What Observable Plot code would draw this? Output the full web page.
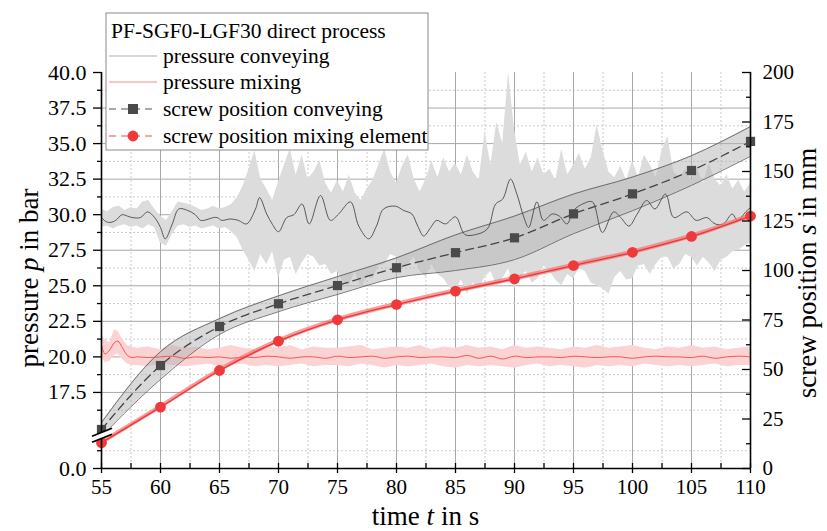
<!DOCTYPE html>
<html><head><meta charset="utf-8">
<script src="https://cdn.jsdelivr.net/npm/d3@7"></script>
<script src="https://cdn.jsdelivr.net/npm/@observablehq/plot@0.6"></script>
<style>body{margin:0;background:#fff;} #chart{width:827px;height:531px;}
#chart svg text{font-family:"Liberation Serif","Times New Roman","DejaVu Serif",serif;}</style>
</head><body><div id="chart"></div>
<script>
// ---------- ticks ----------
const timeTicks = [55,60,65,70,75,80,85,90,95,100,105,110];
const timeMinor = [57.5,62.5,67.5,72.5,77.5,82.5,87.5,92.5,97.5,102.5,107.5];
const pressureTicks = [0,17.5,20,22.5,25,27.5,30,32.5,35,37.5,40];
const pressureTickLabels = ["0.0","17.5","20.0","22.5","25.0","27.5","30.0","32.5","35.0","37.5","40.0"];
const pressureMinor = [1.25,16.25,18.75,21.25,23.75,26.25,28.75,31.25,33.75,36.25,38.75];
const screwTicks = [0,25,50,75,100,125,150,175,200];
const screwMinor = [12.5,37.5,62.5,87.5,112.5,137.5,162.5,187.5];
const pressureBreak = 14.6;

// ---------- pressure conveying (bar) ----------
const pcT = [55.0,55.4,55.8,56.2,56.75,57.2,57.6,58.3,58.9,59.5,60.0,60.4,61.0,61.55,62.3,62.95,63.4,64.1,64.5,64.8,65.2,65.9,66.6,67.3,68.05,68.4,69.0,69.5,70.0,70.7,71.3,72.0,72.6,73.56,74.4,75.1,76.1,76.8,77.65,78.3,78.9,79.9,80.6,81.3,81.8,82.3,82.9,83.4,84.15,85.0,85.8,86.7,87.7,88.4,89.0,89.66,90.2,90.8,91.2,91.9,92.45,93.2,93.8,94.45,95.0,95.9,96.6,97.45,98.4,99.0,99.7,100.4,101.2,101.9,102.8,103.5,104.6,105.4,106.3,107.0,107.7,108.45,108.9,109.6,110.0];
const pcP = [29.8,29.5,29.46,29.6,30.0,29.9,29.8,29.8,30.2,29.8,29.1,28.3,29.35,30.4,30.3,30.0,29.6,29.7,29.8,29.8,29.6,29.7,29.6,29.35,30.4,31.2,30.05,29.3,28.8,29.8,30.0,30.75,29.35,31.35,29.6,30.05,30.9,29.2,28.3,29.2,30.4,30.6,30.3,30.05,29.2,28.5,29.1,29.6,29.35,29.85,28.6,28.6,29.0,30.75,31.1,32.5,31.45,29.8,29.1,30.9,29.6,30.05,29.9,29.35,30.3,30.8,30.9,28.75,30.2,29.8,29.2,30.05,31.0,30.4,31.45,29.8,30.2,29.6,29.8,29.35,29.35,30.05,29.6,30.2,30.5];

// spread of pressure conveying, 0.5 s steps
const bandT = [55,55.5,56,56.5,57,57.5,58,58.5,59,59.5,
  60,60.5,61,61.5,62,62.5,63,63.5,64,64.5,
  65,65.5,66,66.5,67,67.5,68,68.5,69,69.5,
  70,70.5,71,71.5,72,72.5,73,73.5,74,74.5,
  75,75.5,76,76.5,77,77.5,78,78.5,79,79.5,
  80,80.5,81,81.5,82,82.5,83,83.5,84,84.5,
  85,85.5,86,86.5,87,87.5,88,88.5,89,89.5,
  90,90.5,91,91.5,92,92.5,93,93.5,94,94.5,
  95,95.5,96,96.5,97,97.5,98,98.5,99,99.5,
  100,100.5,101,101.5,102,102.5,103,103.5,104,104.5,
  105,105.5,106,106.5,107,107.5,108,108.5,109,109.5,110];
const pcUpper = [30.4,30.2,30.5,30.6,30.3,30.5,30.4,30.9,31.0,30.4,
  29.9,29.6,30.2,30.9,30.8,30.7,30.5,30.3,30.4,30.6,
  30.4,30.5,30.7,31.2,32.0,33.2,34.5,32.5,31.8,31.0,
  32.3,33.5,34.6,32.8,34.2,32.5,33.0,33.8,32.2,31.5,
  32.4,31.6,32.8,31.5,31.0,31.8,32.4,33.5,34.6,33.0,
  32.2,33.4,34.2,32.5,31.6,32.5,33.8,32.6,34.0,33.0,
  33.6,32.8,34.2,33.0,32.4,35.8,33.5,36.5,35.0,40.0,
  36.0,33.5,34.4,33.0,34.0,32.8,33.2,32.4,34.6,32.8,
  33.5,34.3,33.2,34.0,36.3,34.5,33.0,32.6,33.4,32.4,
  33.8,32.6,34.2,33.5,32.6,34.5,35.5,33.0,32.6,33.2,
  32.4,33.3,32.2,33.6,32.5,32.0,32.8,31.8,32.4,31.6,32.2];
const pcLower = [29.1,29.2,29.0,29.2,29.3,29.1,29.2,29.0,29.3,29.1,
  28.0,27.8,28.6,29.2,29.3,29.1,29.2,29.0,29.1,29.2,
  29.0,29.1,28.8,28.4,27.5,26.8,26.0,27.2,26.5,27.4,
  25.5,26.8,27.0,25.8,26.6,27.2,27.0,26.4,26.5,25.8,
  26.0,25.2,25.0,26.0,24.8,25.6,25.5,26.4,26.5,27.2,
  27.0,26.2,26.5,27.0,26.0,25.6,26.5,25.8,25.5,24.9,
  24.6,25.4,24.4,25.2,24.8,25.6,26.0,25.0,25.5,26.2,
  24.8,25.6,26.0,25.2,25.5,26.4,26.0,25.4,25.0,25.8,
  25.5,26.2,26.0,25.2,25.0,24.8,24.4,25.6,26.0,25.4,
  25.5,26.4,26.5,25.8,26.5,27.0,27.0,26.2,26.5,27.2,
  27.0,26.4,27.0,26.6,26.0,26.8,27.0,27.4,27.5,27.8,28.0];

// ---------- pressure mixing (bar) ----------
const pmT = [55,55.3,55.7,56.1,56.4,56.8,57.2,57.6,58,59,60,61,62,63,64,65,66,67,68,69,70,71,72,73,74,75,76,77,78,79,80,81,82,83,84,85,86,87,88,89,90,91,92,93,94,95,96,97,98,99,100,101,102,103,104,105,106,107,108,109,110];
const pmP = [20.8,20.2,20.5,21.0,21.1,20.6,20.1,19.95,20.0,19.95,20.0,20.05,19.9,20.0,19.95,20.0,19.9,20.0,19.95,20.05,20.0,19.9,20.0,20.0,19.9,20.05,19.95,20.0,20.05,19.9,20.0,20.05,19.95,20.0,20.0,19.95,20.1,19.9,20.05,19.85,20.05,19.95,20.0,20.0,19.95,20.05,20.0,19.95,20.0,20.0,19.9,20.0,20.05,20.0,20.0,19.95,20.05,19.9,20.0,20.05,20.0];
const pmUpper = [21.5,21.2,21.0,21.9,21.8,21.2,20.8,20.7,20.6,20.7,20.5,20.8,20.6,20.7,20.5,20.6,20.8,20.6,20.5,20.7,20.6,20.8,20.5,20.7,20.6,20.6,20.7,20.8,20.5,20.6,20.7,20.6,20.8,20.5,20.7,20.6,20.8,20.6,20.7,20.5,20.8,20.6,20.7,20.6,20.5,20.7,20.6,20.8,20.6,20.7,20.8,20.6,20.5,20.7,20.6,20.8,20.6,20.7,20.5,20.6,20.7];
const pmLower = [20.0,19.6,19.7,20.1,20.2,19.8,19.5,19.4,19.4,19.3,19.5,19.4,19.3,19.4,19.5,19.3,19.4,19.5,19.3,19.4,19.3,19.4,19.5,19.3,19.4,19.4,19.3,19.5,19.4,19.2,19.4,19.3,19.4,19.5,19.3,19.2,19.4,19.3,19.4,19.3,19.2,19.4,19.5,19.3,19.4,19.3,19.2,19.4,19.3,19.4,19.3,19.5,19.4,19.3,19.4,19.3,19.4,19.5,19.3,19.4,19.4];

// ---------- screw positions (mm) ----------
const screwT = [55,60,65,70,75,80,85,90,95,100,105,110];
const screwConv = [19.7,52,71.7,83.2,92.4,101.4,109,116.5,128.6,138.7,150.5,165.2];
const screwConvSpread = [3.5,7,4,4,4.5,5,9,11,10,8.5,7.5,7.5];
const screwMix = [13,31,49.5,64.3,75.1,82.8,89.6,95.8,102.5,109.2,117.2,127.5];
const screwMixSpread = [1.2,1.2,1.2,1.2,1.2,1.2,1.2,1.2,1.2,1.2,1.2,1.2];

// pressure (bar) -> shared vertical unit (mm of the right axis); broken left axis
const barToMm = 200 / (40 - 12.15);
function pToMm(p) { return p < pressureBreak ? p * barToMm : 200 - (40 - p) * barToMm; }

const pcLine = pcT.map((t,i)=>({t, v: pToMm(pcP[i])}));
const pcBand = bandT.map((t,i)=>({t, lo: pToMm(pcLower[i]), hi: pToMm(pcUpper[i])}));
const pmLine = pmT.map((t,i)=>({t, v: pToMm(pmP[i]), lo: pToMm(pmLower[i]), hi: pToMm(pmUpper[i])}));
const scData = screwT.map((t,i)=>({t, v: screwConv[i], lo: screwConv[i]-screwConvSpread[i], hi: screwConv[i]+screwConvSpread[i]}));
const smData = screwT.map((t,i)=>({t, v: screwMix[i], lo: screwMix[i]-screwMixSpread[i], hi: screwMix[i]+screwMixSpread[i]}));

const leftMajorMm = pressureTicks.map(pToMm);
const leftLabel = new Map(leftMajorMm.map((m,i)=>[m, pressureTickLabels[i]]));
const leftMinorMm = pressureMinor.map(pToMm);
const gridMajorMm = pressureTicks.filter(p=>p>0 && p<40).map(pToMm);

const FONT = "'Liberation Serif', 'Times New Roman', 'DejaVu Serif', serif";
const black = "#000";

const plot = Plot.plot({
  width: 827, height: 531,
  marginLeft: 101, marginRight: 77, marginTop: 72, marginBottom: 63,
  x: {domain: [55,110]},
  y: {domain: [0,200]},
  style: {fontFamily: FONT, fontSize: "21px", background: "#fff", color: "#000"},
  marks: [
    // grid
    Plot.ruleX(timeMinor, {stroke: "#c8c8c8", strokeDasharray: "2,2", strokeWidth: 1}),
    Plot.ruleX(timeTicks.slice(1,-1), {stroke: "#a8a8a8", strokeWidth: 1}),
    Plot.ruleY(leftMinorMm, {stroke: "#c8c8c8", strokeDasharray: "2,2", strokeWidth: 1}),
    Plot.ruleY(gridMajorMm, {stroke: "#a8a8a8", strokeWidth: 1}),
    // spread bands
    Plot.areaY(pcBand, {x: "t", y1: "lo", y2: "hi", fill: "#dcdcdc", curve: "linear"}),
    Plot.areaY(pmLine, {x: "t", y1: "lo", y2: "hi", fill: "#fbd3d3", curve: "linear"}),
    Plot.areaY(scData, {x: "t", y1: "lo", y2: "hi", fill: "#b4b4b4", fillOpacity: 0.5, curve: "monotone-x"}),
    Plot.line(scData, {x: "t", y: "lo", stroke: "#555", strokeWidth: 0.8, curve: "monotone-x"}),
    Plot.line(scData, {x: "t", y: "hi", stroke: "#555", strokeWidth: 0.8, curve: "monotone-x"}),
    // pressure lines
    Plot.line(pcLine, {x: "t", y: "v", stroke: "#4a4a4a", strokeWidth: 0.9, curve: "catmull-rom"}),
    Plot.line(pmLine, {x: "t", y: "v", stroke: "#ef4a4a", strokeWidth: 0.9, curve: "catmull-rom"}),
    // screw mixing
    Plot.areaY(smData, {x: "t", y1: "lo", y2: "hi", fill: "#f47070", fillOpacity: 0.7, curve: "monotone-x"}),
    Plot.line(smData, {x: "t", y: "v", stroke: "#ee3535", strokeWidth: 1.3, curve: "monotone-x"}),
    Plot.dot(smData, {x: "t", y: "v", r: 5.4, fill: "#f03a3a", stroke: "none"}),
    // screw conveying
    Plot.line(scData, {x: "t", y: "v", stroke: "#444", strokeWidth: 1.3, strokeDasharray: "8,5", curve: "monotone-x"}),
    Plot.dot(scData, {x: "t", y: "v", symbol: "square", r: 5.2, fill: "#4a4a4a", stroke: "none"}),
    // axis lines
    Plot.ruleY([0], {stroke: black, strokeWidth: 1.6}),
    Plot.ruleX([55], {stroke: black, strokeWidth: 1.6}),
    Plot.ruleX([110], {stroke: black, strokeWidth: 1.6}),
    // x axis
    Plot.axisX({ticks: timeTicks, tickSize: 5, tickPadding: 6, tickFormat: d => String(d), fontSize: 21, stroke: black, strokeWidth: 1.3, label: null}),
    Plot.axisX({ticks: timeTicks, tickSize: -5, tickFormat: () => "", stroke: black, strokeWidth: 1.3, label: null}),
    Plot.axisX({ticks: timeMinor, tickSize: -5, tickFormat: () => "", stroke: black, strokeWidth: 1.3, label: null}),
    // left axis (pressure)
    Plot.axisY({anchor: "left", ticks: leftMajorMm, tickSize: 8, tickPadding: 7, tickFormat: d => leftLabel.get(d), fontSize: 22, stroke: black, strokeWidth: 1.3, label: null}),
    Plot.axisY({anchor: "left", ticks: leftMinorMm, tickSize: 4, tickFormat: () => "", stroke: black, strokeWidth: 1.3, label: null}),
    // right axis (screw position)
    Plot.axisY({anchor: "right", ticks: screwTicks, tickSize: -9, tickPadding: 21, tickFormat: d => String(d), fontSize: 21, stroke: black, strokeWidth: 1.3, label: null}),
    Plot.axisY({anchor: "right", ticks: screwMinor, tickSize: -5, tickFormat: () => "", stroke: black, strokeWidth: 1.3, label: null})
  ]
});
document.getElementById("chart").appendChild(plot);

// ---------- decorations: axis titles, break mark, legend ----------
const svg = d3.select(plot);
const xs = plot.scale("x"), ys = plot.scale("y");
const x0 = xs.apply(55), x1 = xs.apply(110);
const yTop = ys.apply(200), yBot = ys.apply(0);

function title(g, parts) {
  parts.forEach(([txt, it]) => g.append("tspan").attr("font-style", it ? "italic" : "normal").text(txt));
}
function addText(sel) {
  return sel.append("text").attr("font-family", FONT).attr("fill", "#000").style("font-family", FONT);
}
const tx = addText(svg).attr("x", (x0+x1)/2).attr("y", yBot + 57)
  .attr("text-anchor","middle").attr("font-size", 27);
title(tx, [["time ",0],["t",1],[" in s",0]]);
const ty = addText(svg).attr("transform", `translate(${x0-63},${(yTop+yBot)/2 + 8}) rotate(-90)`)
  .attr("text-anchor","middle").attr("font-size", 27);
title(ty, [["pressure ",0],["p",1],[" in bar",0]]);
const tr = addText(svg).attr("transform", `translate(${x1+66},${(yTop+yBot)/2 + 3}) rotate(-90)`)
  .attr("text-anchor","middle").attr("font-size", 27);
title(tr, [["screw position ",0],["s",1],[" in mm",0]]);

// axis break
const yb = ys.apply(pToMm(pressureBreak));
const brk = svg.append("g");
brk.append("path").attr("d", `M${x0-8},${yb+3} L${x0+10},${yb-5} L${x0+10},${yb+1} L${x0-8},${yb+9} Z`).attr("fill", "#fff");
brk.append("line").attr("x1", x0-9).attr("y1", yb+3).attr("x2", x0+11).attr("y2", yb-5).attr("stroke", "#000").attr("stroke-width", 1.6);
brk.append("line").attr("x1", x0-9).attr("y1", yb+9).attr("x2", x0+11).attr("y2", yb+1).attr("stroke", "#000").attr("stroke-width", 1.6);

// legend
const legendTitle = "PF-SGF0-LGF30 direct process";
const legendItems = ["pressure conveying","pressure mixing","screw position conveying","screw position mixing element"];
const lg = svg.append("g");
lg.append("rect").attr("x", 106).attr("y", 13).attr("width", 322).attr("height", 137)
  .attr("fill", "#fff").attr("stroke", "#8a8a8a").attr("stroke-width", 1);
addText(lg).attr("x", 111).attr("y", 30).attr("dy", "0.35em").attr("text-anchor", "start").attr("font-size", 21.5).text(legendTitle);
const rowY = [56, 82, 109, 136];
const sx0 = 109, sx1 = 157, sxm = 133;
lg.append("line").attr("x1", sx0).attr("x2", sx1).attr("y1", rowY[0]).attr("y2", rowY[0]).attr("stroke", "#b0b0b0").attr("stroke-width", 1.2);
lg.append("line").attr("x1", sx0).attr("x2", sx1).attr("y1", rowY[1]).attr("y2", rowY[1]).attr("stroke", "#f6b3b3").attr("stroke-width", 1.5);
lg.append("line").attr("x1", sx0).attr("x2", sx1).attr("y1", rowY[2]).attr("y2", rowY[2]).attr("stroke", "#555").attr("stroke-width", 1.2).attr("stroke-dasharray", "7,5");
lg.append("rect").attr("x", sxm-5).attr("y", rowY[2]-5).attr("width", 10).attr("height", 10).attr("fill", "#4a4a4a");
lg.append("line").attr("x1", sx0).attr("x2", sx1).attr("y1", rowY[3]).attr("y2", rowY[3]).attr("stroke", "#f04a4a").attr("stroke-width", 1.2).attr("stroke-dasharray", "7,5");
lg.append("circle").attr("cx", sxm).attr("cy", rowY[3]).attr("r", 5.4).attr("fill", "#f03a3a");
legendItems.forEach((s,i)=> addText(lg).attr("x", 163).attr("y", rowY[i]).attr("dy", "0.32em").attr("text-anchor", "start").attr("font-size", 21.5).text(s));
</script>
</body></html>
